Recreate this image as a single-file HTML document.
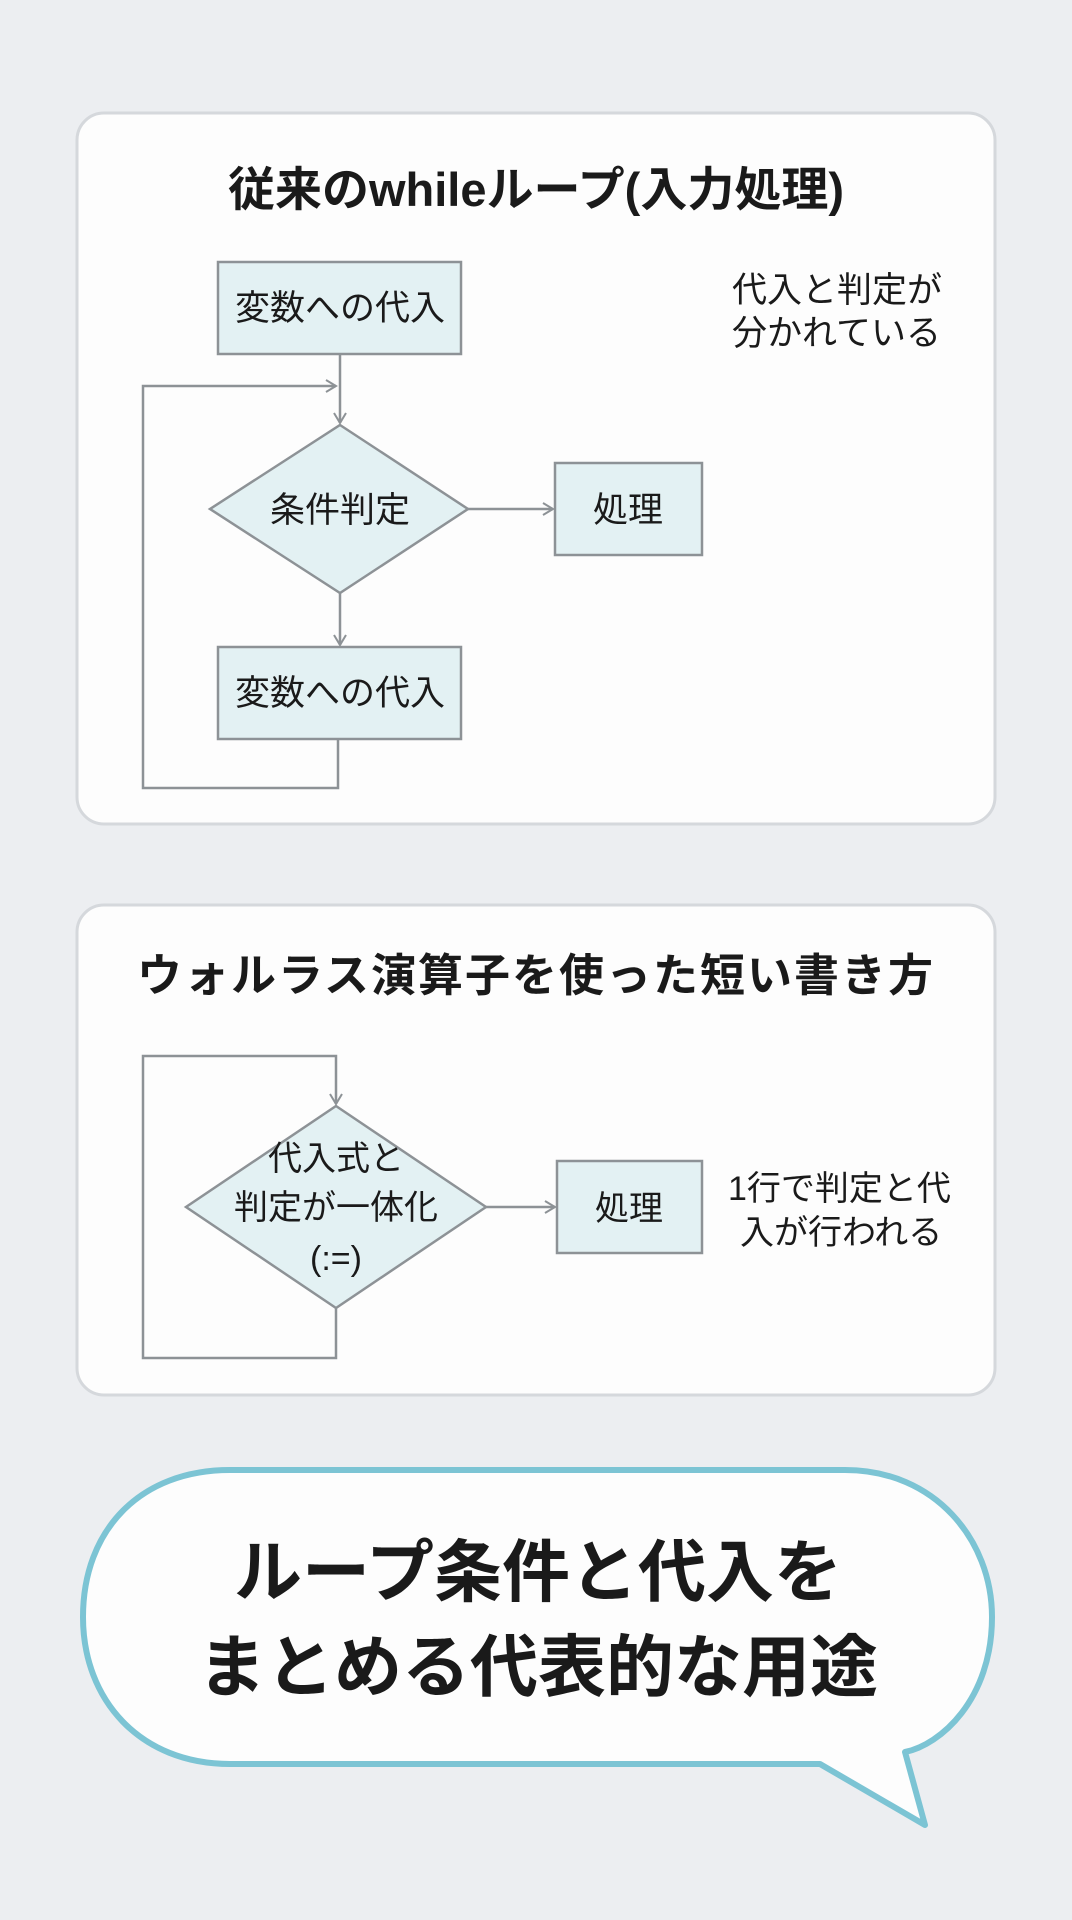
<!DOCTYPE html>
<html><head><meta charset="utf-8"><style>
html,body{margin:0;padding:0;background:#eceef1;}
svg{display:block;}
text{font-family:"Liberation Sans","Noto Sans CJK JP",sans-serif;fill:#1a1a1a;}
</style></head><body>
<svg width="1072" height="1920" viewBox="0 0 1072 1920" xmlns="http://www.w3.org/2000/svg">
<defs>
<marker id="ar" markerWidth="14" markerHeight="14" refX="11" refY="7" orient="auto" markerUnits="userSpaceOnUse">
<path d="M1,1 L11,7 L1,13" fill="none" stroke="#8d9296" stroke-width="2"/>
</marker>
</defs>
<rect width="1072" height="1920" fill="#eceef1"/>
<!-- card 1 -->
<rect x="77" y="113" width="918" height="711" rx="27" fill="#fdfdfd" stroke="#d5d8dc" stroke-width="3"/>
<text x="536" y="206" font-size="47" font-weight="bold" text-anchor="middle">従来のwhileループ(入力処理)</text>
<g stroke="#8d9296" stroke-width="2.5" fill="#e3f1f3">
<rect x="218" y="262" width="243" height="92"/>
<polygon points="340,425 468,509 340,593 210,509"/>
<rect x="555" y="463" width="147" height="92"/>
<rect x="218" y="647" width="243" height="92"/>
</g>
<g stroke="#8d9296" stroke-width="2.5" fill="none">
<line x1="340" y1="354" x2="340" y2="423" marker-end="url(#ar)"/>
<polyline points="338,739 338,788 143,788 143,386 336,386" marker-end="url(#ar)"/>
<line x1="468" y1="509" x2="553" y2="509" marker-end="url(#ar)"/>
<line x1="340" y1="593" x2="340" y2="645" marker-end="url(#ar)"/>
</g>
<g font-size="35" text-anchor="middle">
<text x="340" y="320">変数への代入</text>
<text x="340" y="522">条件判定</text>
<text x="628" y="522">処理</text>
<text x="340" y="705">変数への代入</text>
</g>
<g font-size="35">
<text x="732" y="302">代入と判定が</text>
<text x="732" y="345">分かれている</text>
</g>
<!-- card 2 -->
<rect x="77" y="905" width="918" height="490" rx="27" fill="#fdfdfd" stroke="#d5d8dc" stroke-width="3"/>
<text x="536" y="991" font-size="45" font-weight="bold" text-anchor="middle" letter-spacing="2">ウォルラス演算子を使った短い書き方</text>
<g stroke="#8d9296" stroke-width="2.5" fill="#e3f1f3">
<polygon points="336,1106 486,1207 336,1308 186,1207"/>
<rect x="557" y="1161" width="145" height="92"/>
</g>
<g stroke="#8d9296" stroke-width="2.5" fill="none">
<polyline points="336,1308 336,1358 143,1358 143,1056 336,1056 336,1104" marker-end="url(#ar)"/>
<line x1="486" y1="1207" x2="555" y2="1207" marker-end="url(#ar)"/>
</g>
<g font-size="34" text-anchor="middle">
<text x="336" y="1170">代入式と</text>
<text x="336" y="1219">判定が一体化</text>
<text x="336" y="1270">(:=)</text>
<text x="629" y="1220">処理</text>
</g>
<g font-size="34">
<text x="728" y="1200">1行で判定と代</text>
<text x="740" y="1244">入が行われる</text>
</g>
<!-- bubble -->
<path d="M230,1470 L845,1470 C935,1470 992,1540 992,1617 C992,1700 940,1745 905,1752 L925,1825 L820,1764 L230,1764 C140,1764 83,1700 83,1617 C83,1530 140,1470 230,1470 Z" fill="#fdfdfd" stroke="#7cc4d4" stroke-width="6" stroke-linejoin="round"/>
<g font-size="68" font-weight="bold" text-anchor="middle">
<text x="538" y="1596">ループ条件と代入を</text>
<text x="538" y="1691">まとめる代表的な用途</text>
</g>
</svg>
</body></html>
